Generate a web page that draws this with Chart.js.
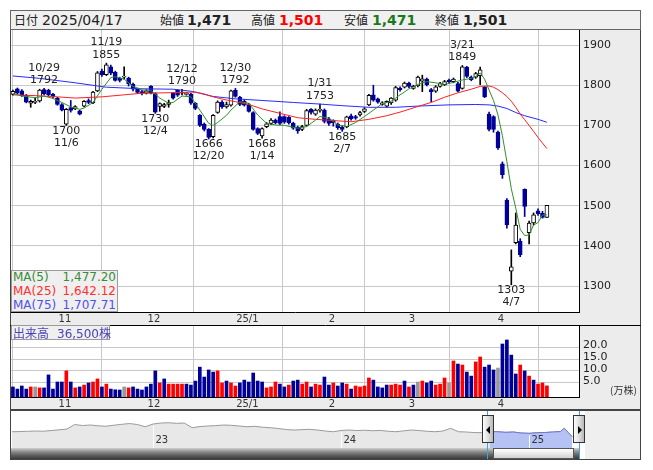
<!DOCTYPE html>
<html lang="ja">
<head>
<meta charset="utf-8">
<title>株価チャート</title>
<script src="https://cdn.jsdelivr.net/npm/chart.js@4.4.1/dist/chart.umd.min.js"></script>
<style>
  body { margin: 0; width: 653px; height: 470px; position: relative; overflow: hidden; background: #fff;
         font-family: "DejaVu Sans", sans-serif; color: #222; }
  div, canvas { position: absolute; box-sizing: border-box; }
  span { position: absolute; white-space: nowrap; }
  #head { left: 10px; top: 10px; width: 631px; height: 20px; border: 1px solid #666; background: #f0f0f0; }
  #head span { top: 0; line-height: 18px; font-size: 14px; }
  #head .jp { font-family: "Noto Sans CJK JP", sans-serif; font-size: 12px; }
  #head .v { font-weight: bold; }
  #panel { left: 10px; top: 30px; width: 631px; height: 380px; background: #ececec; border: 1px solid #444; border-top: 0; }
  #maBox { left: 11px; top: 270px; width: 107px; height: 42px; background: #efefef; border: 1px solid #9a9a9a; font-size: 12px; }
  #maBox span { line-height: 14px; }
  #volBox { left: 11px; top: 325px; width: 99px; height: 15px; background: #efefef; border: 1px solid #9a9a9a;
            font-size: 12px; color: #4a44b4; }
  #volBox span { top: 0; line-height: 13px; }
  #unit { left: 610px; top: 384px; font-size: 10px; line-height: 12px; font-family: "Noto Sans CJK JP", sans-serif; color: #333; }
  #nav { left: 10px; top: 410px; width: 631px; height: 50px; border: 1px solid #444; background: #fff; }
  #navGray { left: 585px; top: 411px; width: 55px; height: 48px; background: #efefef; }
  #track { left: 11px; top: 448px; width: 569px; height: 11px; background: linear-gradient(#d0d0d0, #8a8a8a 35%, #5a5a5a 70%, #3a3a3a); }
  #thumb { left: 493px; top: 448px; width: 81px; height: 11px; border: 1px solid #555; background: linear-gradient(#ffffff, #e4e4e4 60%, #cfcfcf); }
  .cy { top: 411px; width: 1px; height: 48px; background: #3aa6e0; }
  .hd { top: 415px; width: 12px; height: 28px; border: 1px solid #333; background: linear-gradient(to right, #fdfdfd, #dcdcdc 55%, #b8b8b8); }
  .tri { top: 10px; width: 0; height: 0; border-top: 4px solid transparent; border-bottom: 4px solid transparent; }
</style>
</head>
<body>
<div id="head">
  <span class="jp" style="left:3px">日付</span><span style="left:31px">2025/04/17</span>
  <span class="jp" style="left:149px">始値</span><span class="v" style="left:176px">1,471</span>
  <span class="jp" style="left:240px">高値</span><span class="v" style="left:268px;color:#ff0000">1,501</span>
  <span class="jp" style="left:333px">安値</span><span class="v" style="left:361px;color:#1a7a1a">1,471</span>
  <span class="jp" style="left:424px">終値</span><span class="v" style="left:452px">1,501</span>
</div>
<div id="panel"></div>
<canvas id="main" width="631" height="295" style="left:10px;top:30px"></canvas>
<canvas id="vol" width="631" height="85" style="left:10px;top:325px"></canvas>
<div id="maBox">
  <span style="left:1px;top:-1px;color:#3a8a3a">MA(5)</span><span style="right:1px;top:-1px;color:#3a8a3a">1,477.20</span>
  <span style="left:1px;top:13px;color:#ff3030">MA(25)</span><span style="right:1px;top:13px;color:#ff3030">1,642.12</span>
  <span style="left:1px;top:27px;color:#5050ee">MA(75)</span><span style="right:1px;top:27px;color:#5050ee">1,707.71</span>
</div>
<div id="volBox">
  <span style="left:1px;font-family:'Noto Sans CJK JP',sans-serif">出来高</span>
  <span style="left:45px">36,500<span style="position:static;font-family:'Noto Sans CJK JP',sans-serif">株</span></span>
</div>
<div id="unit">(万株)</div>
<div id="nav"></div>
<canvas id="navc" width="629" height="37" style="left:11px;top:411px"></canvas>
<div id="navGray"></div>
<div id="track"></div>
<div id="thumb"></div>
<div class="cy" style="left:487px"></div>
<div class="cy" style="left:579px"></div>
<div class="hd" style="left:482px"><div class="tri" style="left:3px;border-right:4px solid #000"></div></div>
<div class="hd" style="left:573px"><div class="tri" style="left:4px;border-left:4px solid #000"></div></div>

<script>
// daily prices 2024/10/18 - 2025/04/17 (index 0 = 10/18)
const opens = [1777,1791,1786,1775,1755,1757,1761,1789,1787,1778,
  1768,1752,1703,1744,1741,1736,1748,1762,1756,1786,
  1835,1826,1846,1832,1818,1820,1818,1803,1791,1784,
  1780,1797,1779,1747,1747,1752,1780,1787,1780,1777,
  1778,1755,1725,1703,1690,1672,1732,1758,1746,1750,
  1787,1770,1760,1752,1732,1692,1674,1697,1705,1713,
  1722,1722,1720,1705,1696,1690,1700,1740,1728,1737,
  1738,1716,1712,1703,1696,1697,1724,1722,1726,1735,
  1751,1776,1766,1752,1748,1756,1763,1792,1795,1805,
  1792,1798,1810,1815,1789,1785,1797,1801,1813,1809,
  1804,1792,1845,1820,1820,1824,1795,1728,1722,1683,
  1604,1514,1337,1408,1412,1541,1433,1457,1487,1481,
  1471];
const highs = [1788,1793,1789,1777,1763,1768,1790,1792,1790,1780,
  1770,1754,1742,1762,1749,1738,1762,1766,1785,1834,
  1840,1855,1850,1835,1820,1846,1820,1805,1793,1787,
  1789,1799,1781,1756,1755,1763,1782,1789,1790,1782,
  1780,1757,1727,1706,1692,1727,1761,1762,1758,1788,
  1792,1772,1764,1755,1734,1694,1694,1707,1717,1716,
  1734,1724,1722,1708,1698,1700,1740,1742,1741,1753,
  1741,1720,1714,1706,1699,1723,1728,1725,1735,1744,
  1777,1800,1768,1759,1761,1769,1797,1796,1808,1808,
  1800,1823,1825,1818,1792,1799,1807,1812,1815,1818,
  1807,1849,1847,1823,1832,1845,1797,1733,1724,1686,
  1609,1518,1390,1482,1418,1542,1462,1482,1492,1486,
  1501];
const lows = [1775,1778,1772,1756,1745,1754,1758,1776,1774,1768,
  1750,1736,1700,1733,1739,1726,1746,1754,1754,1784,
  1822,1824,1826,1810,1808,1815,1798,1786,1779,1776,
  1778,1778,1730,1735,1744,1745,1765,1772,1776,1775,
  1752,1739,1697,1686,1666,1669,1730,1742,1743,1748,
  1770,1749,1748,1733,1688,1677,1668,1694,1702,1704,
  1702,1705,1703,1690,1680,1687,1698,1728,1725,1733,
  1706,1700,1698,1690,1685,1694,1713,1715,1723,1732,
  1749,1760,1755,1750,1745,1752,1760,1785,1793,1794,
  1790,1796,1784,1798,1759,1782,1795,1799,1805,1806,
  1783,1790,1819,1811,1817,1801,1769,1686,1683,1640,
  1568,1444,1303,1405,1373,1473,1405,1452,1476,1469,
  1471];
const closes = [1785,1780,1774,1758,1760,1760,1788,1778,1776,1771,
  1752,1738,1740,1737,1747,1728,1760,1757,1783,1831,
  1826,1851,1830,1812,1812,1822,1803,1790,1782,1780,
  1786,1780,1733,1754,1752,1757,1768,1775,1781,1779,
  1755,1742,1700,1690,1670,1725,1758,1746,1752,1786,
  1772,1752,1750,1735,1690,1680,1692,1704,1713,1707,
  1705,1708,1706,1693,1686,1697,1737,1732,1738,1740,
  1710,1705,1707,1694,1690,1721,1716,1718,1732,1741,
  1775,1763,1758,1756,1760,1768,1794,1789,1805,1797,
  1797,1820,1816,1801,1784,1796,1804,1809,1809,1815,
  1785,1846,1822,1814,1829,1838,1771,1690,1690,1644,
  1577,1452,1348,1452,1378,1498,1457,1477,1480,1471,
  1501];
// volume in 万株
const volumes = [3.2,2.3,3.6,2.3,3.2,3.2,2.8,2.8,8.3,2.3,
  5.3,5.3,10.0,5.3,2.8,3.2,4.0,4.9,5.3,6.6,
  3.2,4.4,2.3,2.0,1.9,3.2,2.8,3.2,2.3,1.9,
  3.2,4.4,10.0,4.9,6.6,4.4,4.4,4.4,4.4,4.4,
  4.0,5.7,11.6,7.4,10.4,9.5,10.0,4.9,5.7,4.9,
  3.6,4.9,6.1,5.3,9.1,5.7,5.3,2.8,3.2,5.3,
  4.4,3.2,4.0,5.7,6.1,4.4,5.3,3.2,4.4,4.0,
  7.4,4.0,4.9,3.6,4.9,4.4,2.3,3.6,3.2,3.6,
  7.0,6.1,3.2,2.8,4.0,4.0,4.4,4.0,5.7,3.2,
  4.0,5.3,5.7,4.9,5.7,4.0,4.4,7.0,4.9,14.2,
  12.9,12.5,9.5,7.8,13.8,15.9,11.6,12.5,10.4,11.2,
  21.4,23.1,16.7,8.7,12.5,10.0,7.8,6.1,4.4,4.9,
  3.65];
// u = up from previous close, d = down, n = unchanged
const volDir = "ddddunuddd" + "ddudududuu" + "dudddnuddd" + "ddduduuuud" +
  "dddddduudu" + "udddddduuu" + "ddudduuduu" + "ddudduduuu" + "udddduuudu" +
  "dnudduuunu" + "dudduudddn" + "ddddududuu" + "u";

// moving averages (day index, value)
const ma5Idx = [0,2,5,7,9,11,13,15,16,18,20,22,23,25,27,29,31,33,35,36,38,40,41,42,44,45,46,48,49,51,53,55,57,59,61,64,66,68,69,71,73,75,77,79,81,83,85,86,87,88,89,90,91,93,95,97,99,101,103,104,105,106,107,108,109,110,111,112,113,114,115,116,117,118,119,120];
const ma5Val = [1779,1773,1769,1773,1767,1757,1746,1740,1743,1757,1790,1819,1821,1815,1797,1788,1787,1768,1755,1757,1773,1771,1755,1738,1705,1700,1707,1725,1738,1759,1755,1726,1705,1701,1700,1693,1697,1713,1722,1718,1701,1697,1707,1722,1738,1754,1760,1768,1776,1783,1791,1796,1802,1809,1806,1802,1807,1813,1817,1822,1830,1815,1788,1762,1726,1674,1610,1542,1494,1441,1426,1427,1452,1458,1477,1477.2];
const ma25Idx = [0,5,10,14,20,25,29,34,38,41,43,45,48,50,53,56,60,64,68,72,76,80,84,87,91,94,97,100,103,105,107,108,109,110,111,112,113,114,115,116,117,118,119,120];
const ma25Val = [1776,1774,1771,1768,1771,1776,1780,1781,1782,1783,1778,1771,1763,1759,1752,1741,1730,1719,1715,1712,1709,1715,1724,1733,1747,1757,1770,1781,1790,1797,1798,1795,1789,1781,1772,1760,1745,1728,1714,1700,1685,1670,1656,1642.12];
const ma75Idx = [0,6,14,21,29,36,40,42,45,50,56,63,69,74,80,86,91,98,104,107,109,111,113,115,118,120];
const ma75Val = [1823,1817,1806,1795,1791,1790,1785,1780,1772,1766,1762,1757,1753,1749,1745,1745,1748,1751,1752,1751,1748,1742,1732,1724,1715,1707.71];

// marked highs / lows
const peakIdx = [7,12,21,32,38,44,50,56,69,74,101,112];
const peakVal = [1792,1700,1855,1730,1790,1666,1792,1668,1753,1685,1849,1303];
const peakDate = ['10/29','11/6','11/19','12/4','12/12','12/20','12/30','1/14','1/31','2/7','3/21','4/7'];
const peakSide = 'hlhlhlhlhlhl';

// axis ticks
const monthIdx = [10,30,51,70,88,108];
const monthLbl = ['11','12','25/1','2','3','4'];
const priceTicks = [1300,1400,1500,1600,1700,1800,1900];
const volTicks = [5,10,15,20];

// navigator: long history, months since 2022/04
const navM = [0,0.5,1,1.5,2,2.5,3,3.5,4,4.5,5,5.5,6,6.5,7,7.5,8,8.5,9,9.5,10,10.5,11,11.5,12,12.5,13,13.5,14,14.5,15,15.5,16,16.5,17,17.5,18,18.5,19,19.5,20,20.5,21,21.5,22,22.5,23,23.5,24,24.5,25,25.5,26,26.5,27,27.5,28,28.5,29,29.5,30,30.5,31,31.5,32,32.5,33,33.5,34,34.5,35,35.25,35.5,35.75];
const navV = [1628,1640,1655,1673,1660,1705,1750,1800,2096,2031,2064,2012,1986,2050,2109,2161,2096,1953,2128,2193,2213,2174,2193,1888,1966,1999,2025,2064,2044,1999,1953,1979,1920,1888,1836,1771,1738,1764,1784,1738,1673,1628,1705,1738,1705,1725,1693,1712,1660,1628,1686,1738,1705,1655,1628,1673,1849,1628,1609,1576,1563,1641,1628,1589,1609,1544,1524,1563,1576,1609,1641,1849,1576,1303];
const navYearM = [9,21,33];
const navYearLbl = ['23','24','25'];
const navFrom = 30.5;

Chart.defaults.font.family = '"DejaVu Sans", sans-serif';
Chart.defaults.color = '#222';

const X_MIN = -0.43, X_MAX = 127.21;
const days = closes.map((c, i) => i);
const up = days.map(i => closes[i] >= opens[i]);
const NAVY = '#000099';

// keep chart areas exactly where the panels are
function noPad(s) {
  s.paddingTop = 0; s.paddingBottom = 0; s.paddingLeft = 0; s.paddingRight = 0;
}

const whiteArea = {
  id: 'whiteArea',
  beforeDraw(chart) {
    const a = chart.chartArea, ctx = chart.ctx;
    ctx.save();
    ctx.fillStyle = '#fff';
    ctx.fillRect(a.left, a.top, a.right - a.left, a.bottom - a.top);
    ctx.restore();
  }
};

const peakLabels = {
  id: 'peakLabels',
  afterDatasetsDraw(chart) {
    const {ctx, scales: {x, y}} = chart;
    ctx.save();
    ctx.font = '11px "DejaVu Sans"';
    ctx.fillStyle = '#222';
    ctx.textAlign = 'center';
    ctx.textBaseline = 'middle';
    peakIdx.forEach((d, k) => {
      const px = x.getPixelForValue(d), py = y.getPixelForValue(peakVal[k]);
      if (peakSide[k] === 'h') {
        ctx.fillText(String(peakVal[k]), px, py - 8);
        ctx.fillText(peakDate[k], px, py - 20.5);
      } else {
        ctx.fillText(String(peakVal[k]), px, py + 5.5);
        ctx.fillText(peakDate[k], px, py + 17.5);
      }
    });
    ctx.restore();
  }
};

function monthAxis() {
  return {
    type: 'linear', min: X_MIN, max: X_MAX, offset: false,
    afterBuildTicks: s => { s.ticks = monthIdx.map(v => ({value: v})); },
    afterFit: s => { s.height = 13; noPad(s); },
    grid: {color: '#c8c8c8', drawTicks: false},
    border: {color: '#000'},
    ticks: {
      autoSkip: false, maxRotation: 0, padding: 1, labelOffset: 7.5,
      font: {size: 10}, color: '#333',
      callback: v => monthLbl[monthIdx.indexOf(v)]
    }
  };
}

const line = (idx, val, color) => ({
  type: 'line', data: idx.map((d, k) => ({x: d, y: val[k]})),
  borderColor: color, borderWidth: 1, pointRadius: 0, tension: 0, order: 0
});

new Chart(document.getElementById('main'), {
  type: 'bar',
  data: {
    datasets: [
      line(ma5Idx, ma5Val, '#2f8f2f'),
      line(ma25Idx, ma25Val, '#ff2020'),
      line(ma75Idx, ma75Val, '#2a2aff'),
      {
        data: days.map(i => ({x: i, y: [opens[i], closes[i]]})),
        backgroundColor: days.map(i => up[i] ? '#fff' : NAVY),
        borderColor: days.map(i => up[i] ? '#000' : NAVY),
        borderWidth: 1, borderSkipped: false, barThickness: 4, minBarLength: 1,
        grouped: false, order: 1
      },
      {
        data: days.map(i => ({x: i, y: [lows[i], highs[i]]})),
        backgroundColor: days.map(i => up[i] ? '#000' : NAVY),
        barThickness: 1, grouped: false, order: 2
      }
    ]
  },
  options: {
    responsive: false, animation: false,
    layout: {padding: {left: 1, top: 0, right: 0, bottom: 0}},
    plugins: {legend: {display: false}, tooltip: {enabled: false}},
    scales: {
      x: monthAxis(),
      y: {
        position: 'right', min: 1235.4, max: 1937.4,
        afterBuildTicks: s => { s.ticks = priceTicks.map(v => ({value: v})); },
        afterFit: s => { s.width = 62; noPad(s); },
        grid: {color: '#c8c8c8', drawTicks: false},
        border: {color: '#000'},
        ticks: {padding: 4, font: {size: 11}, color: '#222', callback: v => v}
      }
    }
  },
  plugins: [whiteArea, peakLabels]
});

const VOL_MIN = -1.06;
const volColor = {u: '#ff0000', d: NAVY, n: '#999999'};
const topLine = {
  id: 'topLine',
  afterDraw(chart) {
    const ctx = chart.ctx;
    ctx.save();
    ctx.strokeStyle = '#000';
    ctx.beginPath(); ctx.moveTo(0, 0.5); ctx.lineTo(chart.width, 0.5); ctx.stroke();
    ctx.restore();
  }
};

new Chart(document.getElementById('vol'), {
  type: 'bar',
  data: {
    datasets: [{
      data: days.map(i => ({x: i, y: volumes[i]})),
      backgroundColor: days.map(i => volColor[volDir[i]]),
      base: VOL_MIN, barThickness: 3, grouped: false
    }]
  },
  options: {
    responsive: false, animation: false,
    layout: {padding: {left: 1, top: 0, right: 0, bottom: 0}},
    plugins: {legend: {display: false}, tooltip: {enabled: false}},
    scales: {
      x: monthAxis(),
      y: {
        position: 'right', min: VOL_MIN, max: 29.45,
        afterBuildTicks: s => { s.ticks = volTicks.map(v => ({value: v})); },
        afterFit: s => { s.width = 62; noPad(s); },
        grid: {color: '#c8c8c8', drawTicks: false},
        border: {color: '#000'},
        ticks: {padding: 4, labelOffset: -2, font: {size: 11}, color: '#222', callback: v => v.toFixed(1)}
      }
    }
  },
  plugins: [whiteArea, topLine]
});

const yearMarks = {
  id: 'yearMarks',
  afterDatasetsDraw(chart) {
    const {ctx, scales: {x, y}, chartArea} = chart;
    ctx.save();
    ctx.font = '10px "DejaVu Sans"';
    ctx.fillStyle = '#333';
    ctx.textBaseline = 'middle';
    navYearM.forEach((m, k) => {
      const px = Math.round(x.getPixelForValue(m)) + 0.5;
      const py = y.getPixelForValue(navV[navM.indexOf(m)]) + 2;
      ctx.strokeStyle = '#fff';
      ctx.beginPath(); ctx.moveTo(px, py); ctx.lineTo(px, chartArea.bottom); ctx.stroke();
      ctx.fillText(navYearLbl[k], px + 2, 29.5);
    });
    ctx.restore();
  }
};

const navPts = navM.map((m, k) => ({x: m, y: navV[k]}));
new Chart(document.getElementById('navc'), {
  type: 'line',
  data: {
    datasets: [
      {data: navPts.filter(p => p.x >= navFrom), borderColor: '#7373d0', backgroundColor: '#b4c2f4',
       fill: 'start', borderWidth: 1, pointRadius: 0, tension: 0},
      {data: navPts, borderColor: '#9a9a9a', backgroundColor: '#e8e8e8',
       fill: 'start', borderWidth: 1, pointRadius: 0, tension: 0}
    ]
  },
  options: {
    responsive: false, animation: false,
    layout: {padding: 0},
    plugins: {legend: {display: false}, tooltip: {enabled: false}},
    scales: {
      x: {type: 'linear', display: false, min: -0.064, max: 40.08},
      y: {display: false, min: 570, max: 2975}
    }
  },
  plugins: [yearMarks]
});
</script>
</body>
</html>
